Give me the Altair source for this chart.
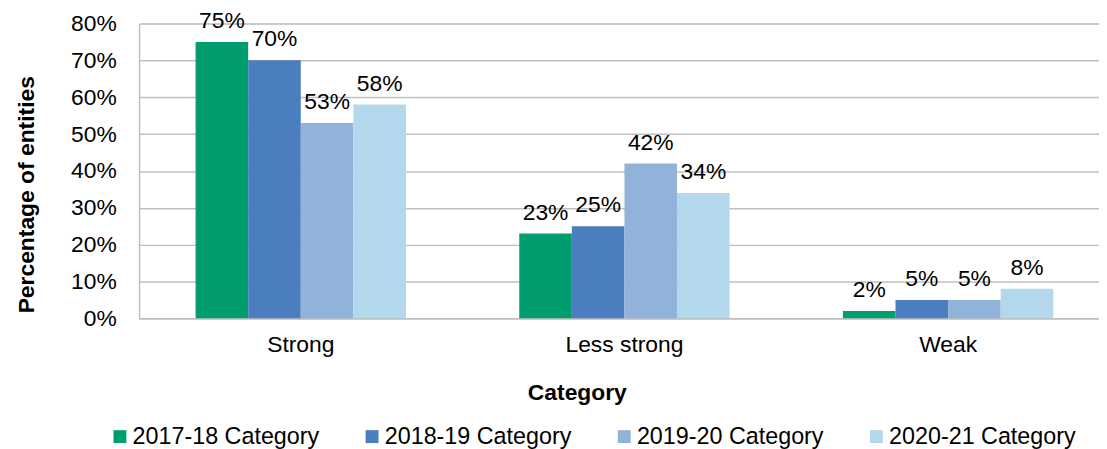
import altair as alt
import pandas as pd

categories = ["Strong", "Less strong", "Weak"]
series = ["2017-18 Category", "2018-19 Category", "2019-20 Category", "2020-21 Category"]
values_2017_18 = [75, 23, 2]
values_2018_19 = [70, 25, 5]
values_2019_20 = [53, 42, 5]
values_2020_21 = [58, 34, 8]
colors = ["#009E6E", "#4A7EBF", "#91B3DA", "#B4D8EB"]
y_ticks = [0, 10, 20, 30, 40, 50, 60, 70, 80]

rows = []
for s, vals in zip(series, [values_2017_18, values_2018_19, values_2019_20, values_2020_21]):
    for c, v in zip(categories, vals):
        rows.append({"Category": c, "Series": s, "Value": v, "Label": f"{v}%"})
df = pd.DataFrame(rows)

FONT = "Liberation Sans"
GRID = "#BFBFBF"

x = alt.X(
    "Category:N",
    sort=categories,
    scale=alt.Scale(paddingInner=0.35, paddingOuter=0.158, align=0.553),
    axis=alt.Axis(
        title="Category",
        ticks=False,
        labelAngle=0,
        labelFont=FONT,
        labelFontSize=23,
        labelColor="#000000",
        labelPadding=15,
        titleFont=FONT,
        titleFontSize=23,
        titleFontWeight="bold",
        titleColor="#000000",
        titleX=441,
        titleY=82,
        titleAlign="center",
        titleBaseline="alphabetic",
        domainColor=GRID,
        domainWidth=1.5,
        grid=False,
    ),
)

y = alt.Y(
    "Value:Q",
    scale=alt.Scale(domain=[0, 80], nice=False),
    axis=alt.Axis(
        values=y_ticks,
        tickCount=9,
        labelOverlap=False,
        labelExpr="datum.value + '%'",
        title="Percentage of entities",
        titleAngle=270,
        titleX=-106,
        titleY=172,
        titleAlign="center",
        titleBaseline="alphabetic",
        titleFont=FONT,
        titleFontSize=23,
        titleFontWeight="bold",
        titleColor="#000000",
        labelFont=FONT,
        labelFontSize=23,
        labelColor="#000000",
        labelPadding=23,
        ticks=False,
        domainColor=GRID,
        domainWidth=1.5,
        grid=True,
        gridColor=GRID,
        gridWidth=1.5,
    ),
)

color = alt.Color(
    "Series:N",
    sort=series,
    scale=alt.Scale(domain=series, range=colors),
    legend=alt.Legend(
        orient="none",
        legendX=-31,
        legendY=404,
        direction="horizontal",
        title=None,
        symbolType="square",
        symbolSize=169,
        symbolStrokeWidth=0,
        labelFont=FONT,
        labelFontSize=23.5,
        labelColor="#000000",
        labelLimit=400,
        labelOffset=1,
        columnPadding=41,
        padding=0,
    ),
)

base = alt.Chart(df)

bars = base.mark_bar().encode(
    x=x,
    xOffset=alt.XOffset("Series:N", sort=series),
    y=y,
    color=color,
)

labels = base.mark_text(
    dy=-14, baseline="alphabetic", align="center", font=FONT, fontSize=23, color="#000000"
).encode(
    x=x,
    xOffset=alt.XOffset("Series:N", sort=series),
    y=y,
    text="Label:N",
)

chart = (
    alt.layer(bars, labels)
    .properties(
        width=967,
        height=297,
        autosize=alt.AutoSizeParams(type="none"),
        padding={"left": 132, "top": 14, "right": 0, "bottom": 130},
    )
    .configure_view(stroke=None)
    .configure(background="white")
)

chart.save("out.html", embed_options={"renderer": "svg", "actions": False})
